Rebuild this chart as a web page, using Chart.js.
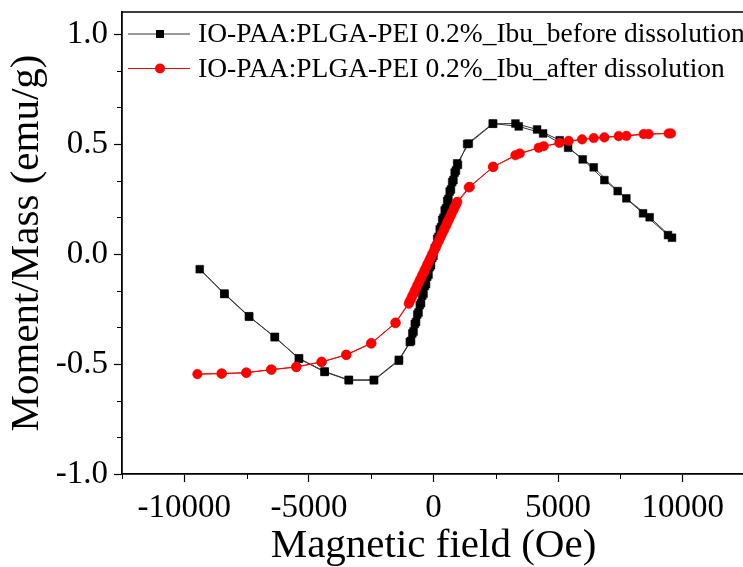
<!DOCTYPE html>
<html>
<head>
<meta charset="utf-8">
<script src="https://cdn.jsdelivr.net/npm/chart.js@4.4.0/dist/chart.umd.min.js"></script>
<style>
  html, body { margin: 0; padding: 0; background: #fff; overflow: hidden; }
  #wrap { width: 743px; height: 567px; overflow: hidden; }
  canvas { display: block; }
</style>
</head>
<body>
<div id="wrap"><canvas id="mhChart" width="760" height="580"></canvas></div>
<script>
// M-H loops
const seriesNames = [
    'IO-PAA:PLGA-PEI 0.2%_Ibu_before dissolution',
    'IO-PAA:PLGA-PEI 0.2%_Ibu_after dissolution'
];

// before dissolution - field sweep down, then back up
const beforeDownField = [9571, 8674, 7739, 6857, 5988, 5065, 4158, 3288, 2394, 1416, 950, 850, 750, 650, 550, 450, 350, 250, 150, 50,
    -50, -150, -250, -350, -450, -550, -650, -750, -850, -950, -1390, -2390, -3400, -4370, -5400, -6370, -7400, -8390, -9380];
const beforeDownMoment = [0.074, 0.167, 0.253, 0.336, 0.430, 0.517, 0.566, 0.593, 0.592, 0.502, 0.412, 0.370, 0.327, 0.284, 0.241, 0.198, 0.155, 0.112, 0.069, 0.026,
    -0.017, -0.060, -0.103, -0.146, -0.189, -0.232, -0.275, -0.318, -0.361, -0.400, -0.481, -0.572, -0.572, -0.534, -0.474, -0.378, -0.283, -0.180, -0.069];
const beforeUpField = [-8390, -7400, -6370, -5400, -4370, -3400, -2390, -1390, -900, -800, -700, -600, -500, -400, -300, -200, -100, 0,
    100, 200, 300, 400, 500, 600, 700, 800, 900, 980, 1350, 2378, 3421, 4399, 5401, 6429, 7391, 8409, 9411];
const beforeUpMoment = [-0.182, -0.285, -0.377, -0.476, -0.536, -0.574, -0.574, -0.485, -0.395, -0.352, -0.309, -0.266, -0.223, -0.180, -0.137, -0.094, -0.051, -0.008,
    0.035, 0.078, 0.121, 0.164, 0.207, 0.250, 0.293, 0.336, 0.379, 0.405, 0.500, 0.593, 0.580, 0.548, 0.483, 0.394, 0.286, 0.185, 0.086];

// after dissolution
const afterDownField = [9531, 8634, 7739, 6857, 5963, 5052, 4222, 3288, 2394, 1416, 950, 850, 750, 650, 550, 450, 350, 250, 150, 50,
    -50, -150, -250, -350, -450, -550, -650, -750, -850, -950, -1524, -2498, -3501, -4491, -5506, -6508, -7511, -8501, -9476];
const afterDownMoment = [0.548, 0.545, 0.537, 0.530, 0.521, 0.505, 0.483, 0.449, 0.396, 0.303, 0.237, 0.213, 0.190, 0.166, 0.142, 0.118, 0.095, 0.071, 0.047, 0.023,
    0.000, -0.024, -0.048, -0.072, -0.095, -0.119, -0.143, -0.167, -0.190, -0.214, -0.312, -0.405, -0.458, -0.490, -0.513, -0.525, -0.539, -0.543, -0.546];
const afterUpField = [-8501, -7511, -6508, -5506, -4491, -3501, -2498, -1524, -990, -890, -790, -690, -590, -490, -390, -290, -190, -90,
    10, 110, 210, 310, 410, 510, 610, 710, 810, 910, 1456, 2394, 3461, 4423, 5425, 6429, 7431, 8433, 9436];
const afterUpMoment = [-0.544, -0.540, -0.526, -0.514, -0.491, -0.459, -0.407, -0.314, -0.226, -0.203, -0.179, -0.155, -0.131, -0.108, -0.084, -0.060, -0.036, -0.013,
    0.011, 0.035, 0.059, 0.083, 0.106, 0.130, 0.154, 0.178, 0.202, 0.226, 0.305, 0.396, 0.457, 0.490, 0.514, 0.527, 0.536, 0.545, 0.548];

// axis ticks
const xTickValues = [-10000, -5000, 0, 5000, 10000];
const xMinorTicks = [-12500, -7500, -2500, 2500, 7500, 12500];
const yTickValues = [-1.0, -0.5, 0.0, 0.5, 1.0];
const yMinorTicks = [-0.8333, -0.6667, -0.3333, -0.1667, 0.1667, 0.3333, 0.6667, 0.8333];

const serif = '"Liberation Serif", "Times New Roman", serif';

function toPoints(fields, moments) {
    return fields.map((f, i) => ({ x: f, y: moments[i] }));
}

// minor tick marks + top/right frame
const framePlugin = {
    id: 'frame',
    afterDraw(chart) {
        const { ctx, chartArea: a, scales } = chart;
        ctx.save();
        ctx.strokeStyle = '#000';
        ctx.lineWidth = 1.5;
        ctx.beginPath();
        ctx.moveTo(a.left, a.top);
        ctx.lineTo(a.right, a.top);
        ctx.lineTo(a.right, a.bottom);
        ctx.stroke();

        ctx.lineWidth = 1;
        ctx.beginPath();
        xMinorTicks.forEach(v => {
            const px = Math.round(scales.x.getPixelForValue(v)) + 0.5;
            ctx.moveTo(px, a.bottom);
            ctx.lineTo(px, a.bottom + 5);
        });
        yMinorTicks.forEach(v => {
            const py = Math.round(scales.y.getPixelForValue(v)) + 0.5;
            ctx.moveTo(a.left, py);
            ctx.lineTo(a.left - 5, py);
        });
        ctx.stroke();
        ctx.restore();
    }
};

// legend inside the plot, line with marker through it
const legendPlugin = {
    id: 'innerLegend',
    afterDraw(chart) {
        const { ctx } = chart;
        const rows = [34, 68.5];
        ctx.save();
        chart.data.datasets.forEach((ds, i) => {
            const y = rows[i];
            ctx.strokeStyle = ds.borderColor;
            ctx.lineWidth = 1;
            ctx.beginPath();
            ctx.moveTo(128, y);
            ctx.lineTo(190, y);
            ctx.stroke();

            ctx.fillStyle = ds.pointBackgroundColor;
            if (ds.pointStyle === 'rect') {
                ctx.fillRect(156, y - 4, 8, 8);
            } else {
                ctx.beginPath();
                ctx.arc(160, y, 5, 0, Math.PI * 2);
                ctx.fill();
            }

            ctx.fillStyle = '#000';
            ctx.font = '27.5px ' + serif;
            ctx.textBaseline = 'middle';
            ctx.textAlign = 'left';
            ctx.fillText(seriesNames[i], 198, y + 1);
        });
        ctx.restore();
    }
};

const ctx = document.getElementById('mhChart').getContext('2d');
new Chart(ctx, {
    type: 'scatter',
    data: {
        datasets: [
            {
                label: seriesNames[0],
                data: toPoints(beforeDownField.concat(beforeUpField), beforeDownMoment.concat(beforeUpMoment)),
                showLine: true,
                borderColor: '#333',
                borderWidth: 1,
                pointStyle: 'rect',
                pointRadius: 5.5,
                pointBackgroundColor: '#000',
                pointBorderColor: '#000',
                pointBorderWidth: 0.5,
                order: 1
            },
            {
                label: seriesNames[1],
                data: toPoints(afterDownField.concat(afterUpField), afterDownMoment.concat(afterUpMoment)),
                showLine: true,
                borderColor: '#ff0000',
                borderWidth: 1,
                pointStyle: 'circle',
                pointRadius: 4.8,
                pointBackgroundColor: '#ff0000',
                pointBorderColor: '#ff0000',
                pointBorderWidth: 0.5,
                order: 0
            }
        ]
    },
    options: {
        responsive: false,
        animation: false,
        layout: { padding: { top: 12, right: 15, left: 0, bottom: 0 } },
        plugins: {
            legend: { display: false },
            tooltip: { enabled: false }
        },
        scales: {
            x: {
                type: 'linear',
                min: -12500,
                max: 12500,
                afterBuildTicks: scale => { scale.ticks = xTickValues.map(v => ({ value: v })); },
                afterFit: scale => { scale.height = 106; scale.paddingLeft = 0; scale.paddingRight = 0; },
                ticks: {
                    color: '#000',
                    font: { family: serif, size: 33 },
                    padding: 7,
                    maxRotation: 0,
                    callback: v => String(v)
                },
                grid: { drawOnChartArea: false, drawTicks: true, tickLength: 8, tickColor: '#000', tickWidth: 1.2 },
                border: { display: true, color: '#000', width: 1.8 },
                title: {
                    display: true,
                    text: 'Magnetic field (Oe)',
                    color: '#000',
                    font: { family: serif, size: 41 },
                    padding: { top: 0, bottom: 9 }
                }
            },
            y: {
                type: 'linear',
                min: -1.0,
                max: 1.1,
                afterBuildTicks: scale => { scale.ticks = yTickValues.map(v => ({ value: v })); },
                afterFit: scale => { scale.width = 122; scale.paddingTop = 0; scale.paddingBottom = 0; },
                ticks: {
                    color: '#000',
                    font: { family: serif, size: 33 },
                    padding: 6,
                    callback: v => v.toFixed(1)
                },
                grid: { drawOnChartArea: false, drawTicks: true, tickLength: 8, tickColor: '#000', tickWidth: 1.2 },
                border: { display: true, color: '#000', width: 1.8 },
                title: {
                    display: true,
                    text: 'Moment/Mass (emu/g)',
                    color: '#000',
                    font: { family: serif, size: 41 },
                    padding: { top: 3, bottom: 0 }
                }
            }
        }
    },
    plugins: [framePlugin, legendPlugin]
});
</script>
</body>
</html>
